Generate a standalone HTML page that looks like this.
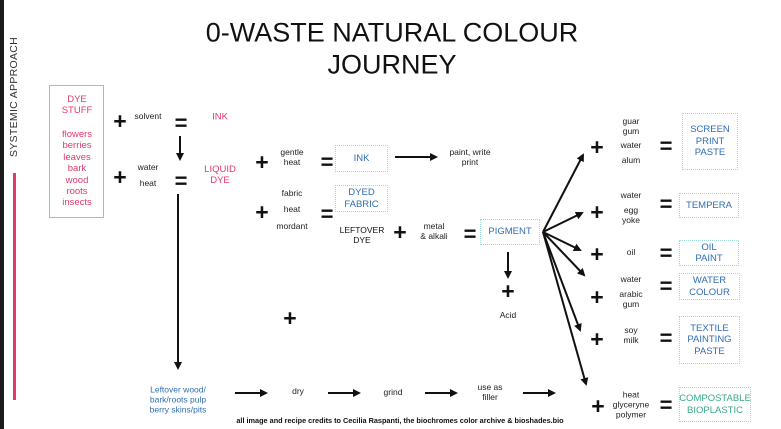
<!DOCTYPE html>
<html><head><meta charset="utf-8"><style>
html,body{margin:0;padding:0;}
body{width:781px;height:429px;position:relative;overflow:hidden;background:#fff;font-family:"Liberation Sans",sans-serif;color:#222;}
.t{position:absolute;transform:translate(-50%,-50%);white-space:nowrap;text-align:center;line-height:1.15;}
.s{font-size:8.5px;color:#222;}
.p{font-size:23px;font-weight:bold;color:#111;}
.e{font-size:22px;font-weight:bold;color:#111;}
.pk{color:#e23a6a;font-size:9.5px;}
.bl{color:#2f6db5;font-size:9.5px;}
.box{position:absolute;border:1.5px dotted #9fd6d6;box-sizing:border-box;display:flex;align-items:center;justify-content:center;text-align:center;font-size:9.5px;color:#2f6db5;line-height:1.2;}
</style></head><body>
<div style="position:absolute;left:0;top:0;width:4px;height:429px;background:#1a1a1a"></div>
<div class="t" style="left:14px;top:97px;transform:translate(-50%,-50%) rotate(-90deg);font-size:10.5px;color:#333;letter-spacing:0.3px">SYSTEMIC APPROACH</div>
<div style="position:absolute;left:13px;top:173px;width:2.5px;height:227px;background:#e23a6a"></div>
<div class="t" style="left:392px;top:33px;font-size:27px;color:#111">0-WASTE NATURAL COLOUR</div>
<div class="t" style="left:392px;top:65px;font-size:27px;color:#111">JOURNEY</div>

<div style="position:absolute;left:49px;top:85px;width:55px;height:133px;border:1.5px solid #ee9f97;box-sizing:border-box"></div>
<div class="t pk" style="left:77px;top:106px">DYE<br>STUFF</div>
<div class="t pk" style="left:77px;top:169px;line-height:1.2">flowers<br>berries<br>leaves<br>bark<br>wood<br>roots<br>insects</div>

<div class="t p" style="left:120px;top:121px">+</div>
<div class="t s" style="left:148px;top:117px">solvent</div>
<div class="t e" style="left:181px;top:123px">=</div>
<div class="t pk" style="left:220px;top:118px">INK</div>
<div class="t p" style="left:120px;top:177px">+</div>
<div class="t s" style="left:148px;top:168px">water</div>
<div class="t s" style="left:148px;top:184px">heat</div>
<div class="t e" style="left:181px;top:181px">=</div>
<div class="t pk" style="left:220px;top:176px">LIQUID<br>DYE</div>

<div class="t p" style="left:262px;top:162px">+</div>
<div class="t s" style="left:292px;top:158px">gentle<br>heat</div>
<div class="t e" style="left:327px;top:162px">=</div>
<div class="box" style="left:335px;top:145px;width:53px;height:27px">INK</div>
<div class="t s" style="left:470px;top:158px">paint, write<br>print</div>

<div class="t p" style="left:262px;top:212px">+</div>
<div class="t s" style="left:292px;top:194px">fabric</div>
<div class="t s" style="left:292px;top:210px">heat</div>
<div class="t s" style="left:292px;top:227px">mordant</div>
<div class="t e" style="left:327px;top:214px">=</div>
<div class="box" style="left:335px;top:185px;width:53px;height:27px">DYED<br>FABRIC</div>

<div class="t" style="left:362px;top:236px;font-size:8.5px;color:#111">LEFTOVER<br>DYE</div>
<div class="t p" style="left:400px;top:232px">+</div>
<div class="t s" style="left:434px;top:232px">metal<br>&amp; alkali</div>
<div class="t e" style="left:470px;top:234px">=</div>
<div class="box" style="left:480px;top:219px;width:60px;height:26px">PIGMENT</div>
<div class="t p" style="left:508px;top:291px">+</div>
<div class="t s" style="left:508px;top:316px">Acid</div>
<div class="t p" style="left:290px;top:318px">+</div>

<div class="t bl" style="left:178px;top:400px;font-size:8.5px">Leftover wood/<br>bark/roots pulp<br>berry skins/pits</div>
<div class="t s" style="left:298px;top:392px">dry</div>
<div class="t s" style="left:393px;top:393px">grind</div>
<div class="t s" style="left:490px;top:393px">use as<br>filler</div>
<div class="t" style="left:400px;top:421px;font-size:7.3px;font-weight:bold;color:#111">all image and recipe credits to Cecilia Raspanti, the biochromes color archive &amp; bioshades.bio</div>

<div class="t p" style="left:597px;top:147px">+</div>
<div class="t s" style="left:631px;top:127px">guar<br>gum</div>
<div class="t s" style="left:631px;top:146px">water</div>
<div class="t s" style="left:631px;top:161px">alum</div>
<div class="t e" style="left:666px;top:146px">=</div>
<div class="box" style="left:682px;top:113px;width:56px;height:57px">SCREEN<br>PRINT<br>PASTE</div>

<div class="t p" style="left:597px;top:212px">+</div>
<div class="t s" style="left:631px;top:196px">water</div>
<div class="t s" style="left:631px;top:216px">egg<br>yoke</div>
<div class="t e" style="left:666px;top:204px">=</div>
<div class="box" style="left:679px;top:193px;width:60px;height:25px">TEMPERA</div>

<div class="t p" style="left:597px;top:254px">+</div>
<div class="t s" style="left:631px;top:253px">oil</div>
<div class="t e" style="left:666px;top:253px">=</div>
<div class="box" style="left:679px;top:240px;width:60px;height:26px">OIL<br>PAINT</div>

<div class="t p" style="left:597px;top:297px">+</div>
<div class="t s" style="left:631px;top:280px">water</div>
<div class="t s" style="left:631px;top:300px">arabic<br>gum</div>
<div class="t e" style="left:666px;top:286px">=</div>
<div class="box" style="left:679px;top:273px;width:61px;height:27px">WATER<br>COLOUR</div>

<div class="t p" style="left:597px;top:339px">+</div>
<div class="t s" style="left:631px;top:336px">soy<br>milk</div>
<div class="t e" style="left:666px;top:338px">=</div>
<div class="box" style="left:679px;top:316px;width:61px;height:48px">TEXTILE<br>PAINTING<br>PASTE</div>

<div class="t p" style="left:598px;top:406px">+</div>
<div class="t s" style="left:631px;top:405px">heat<br>glyceryne<br>polymer</div>
<div class="t e" style="left:666px;top:405px">=</div>
<div class="box" style="left:679px;top:387px;width:72px;height:35px;color:#3aa88a">COMPOSTABLE<br>BIOPLASTIC</div>

<svg width="781" height="429" style="position:absolute;left:0;top:0" xmlns="http://www.w3.org/2000/svg">
<defs><marker id="a" markerWidth="8" markerHeight="8" refX="6" refY="4" orient="auto" markerUnits="userSpaceOnUse"><path d="M0,0 L8,4 L0,8 Z" fill="#111"/></marker></defs>
<g stroke="#111" stroke-width="2" fill="none" marker-end="url(#a)">
<line x1="180" y1="136" x2="180" y2="159"/>
<line x1="178" y1="194" x2="178" y2="368"/>
<line x1="395" y1="157" x2="436" y2="157"/>
<line x1="508" y1="252" x2="508" y2="277"/>
<line x1="235" y1="393" x2="266" y2="393"/>
<line x1="328" y1="393" x2="359" y2="393"/>
<line x1="425" y1="393" x2="456" y2="393"/>
<line x1="523" y1="393" x2="554" y2="393"/>
<line x1="543" y1="232" x2="583" y2="155"/>
<line x1="543" y1="232" x2="582" y2="213"/>
<line x1="543" y1="232" x2="580" y2="250"/>
<line x1="543" y1="232" x2="584" y2="275"/>
<line x1="543" y1="232" x2="580" y2="330"/>
<line x1="543" y1="232" x2="586" y2="384"/>
</g></svg>
</body></html>
